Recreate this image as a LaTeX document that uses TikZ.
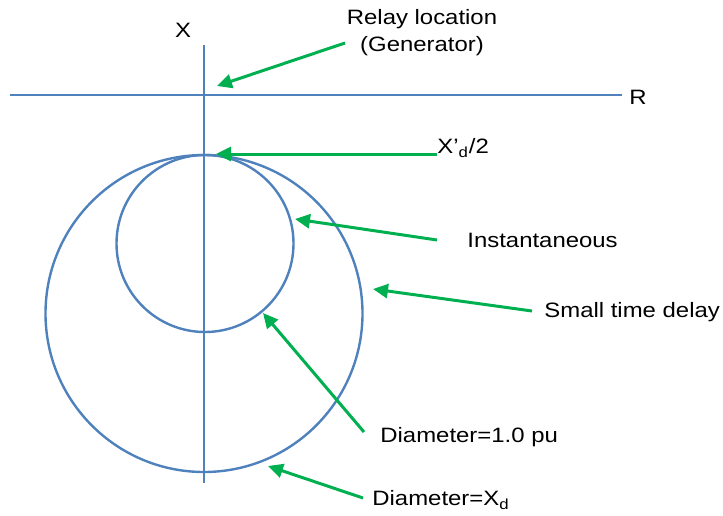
\documentclass[tikz,border=0pt]{standalone}
\usepackage{fontspec}
\setmainfont{Liberation Sans}[FakeStretch=1.15]
\usetikzlibrary{arrows.meta, positioning}
\definecolor{axblue}{HTML}{4F81BD}
\definecolor{argreen}{HTML}{00B050}

\begin{document}
\begin{tikzpicture}[x=0.5pt, y=-0.5pt,
    ax/.style={draw=axblue, line width=1.2pt},
    ar/.style={-{Triangle[length=7.5pt, width=7pt]}, draw=argreen, fill=argreen, line width=1.5pt},
    lbl/.style={font=\fontsize{10.4}{13.5}\selectfont, inner sep=0pt, anchor=west, align=center}]
\useasboundingbox (0,0) rectangle (723,515);

% Axes
\coordinate (xtop) at (204,45);
\coordinate (xbot) at (204,483);
\coordinate (rleft) at (10,95);
\coordinate (rright) at (622,95);
\draw[ax] (xtop) -- (xbot);
\draw[ax] (rleft) -- (rright);
\node[lbl, anchor=center] (xlab) at (183,30) {X};
\node[lbl] (rlab) at (629,97) {R};

% Characteristic circles
\draw[ax] (204,313.5) circle[radius=158.5];
\draw[ax] (205,243.5) circle[radius=88.5];

% Labels
\node[lbl, anchor=center] (relay) at (422,33) {Relay location\\(Generator)};
\node[lbl] (xd2) at (437,148) {X’\textsubscript{d}/2};
\node[lbl] (inst) at (467,240) {Instantaneous};
\node[lbl] (delay) at (544,312) {Small time delay};
\node[lbl] (dia1) at (380,437) {Diameter=1.0 pu};
\node[lbl] (diaxd) at (372,500) {Diameter=X\textsubscript{d}};

% Arrow ends
\coordinate (relayt) at (345,43);
\coordinate (relayh) at (217,86);
\coordinate (xd2t) at (437,154);
\coordinate (xd2h) at (216,154);
\coordinate (instt) at (437,240);
\coordinate (insth) at (295,219);
\coordinate (delayt) at (532,311);
\coordinate (delayh) at (373,289);
\coordinate (dia1t) at (364,432);
\coordinate (dia1h) at (263,313);
\coordinate (diaxdt) at (363,498);
\coordinate (diaxdh) at (268,466);

% Arrows
\draw[ar] (relayt) -- (relayh);
\draw[ar] (xd2t) -- (xd2h);
\draw[ar] (instt) -- (insth);
\draw[ar] (delayt) -- (delayh);
\draw[ar] (dia1t) -- (dia1h);
\draw[ar] (diaxdt) -- (diaxdh);

\end{tikzpicture}
\end{document}
